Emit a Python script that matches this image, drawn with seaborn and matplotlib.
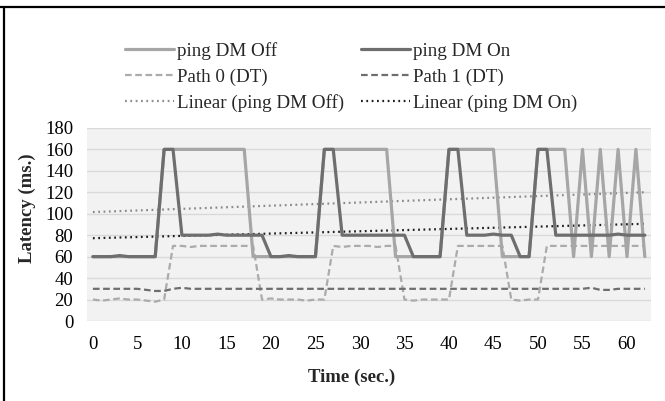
import numpy as np
import pandas as pd
import matplotlib
matplotlib.use("Agg")
import matplotlib.pyplot as plt
from matplotlib.lines import Line2D
import seaborn as sns

# time axis (sec.)
time_sec = list(range(63))

ping_dm_off = ([60] * 8 + [160] * 10 + [60] * 8 + [160] * 8 + [60] * 6 + [160] * 6
               + [60] * 4 + [160] * 4 + [60, 160, 60, 160, 60, 160, 60, 160, 60])
ping_dm_on = ([60, 60, 60, 61, 60, 60, 60, 60] + [160, 160]
              + [80, 80, 80, 80, 81, 80, 80, 80, 80, 80]
              + [60, 60, 61, 60, 60, 60] + [160, 160]
              + [80, 80, 80, 80, 80, 80, 80, 80] + [60, 60, 60, 60] + [160, 160]
              + [80, 80, 80, 81, 80, 80] + [60, 60] + [160, 160]
              + [80, 80, 80, 80, 80, 80, 80, 81, 80, 80, 80])
path0_dt = ([20, 19, 20, 21, 20, 20, 19, 18, 20] + [70, 70, 69, 70, 70, 70, 70, 70, 70, 70]
            + [20, 21, 20, 20, 20, 19, 20, 20] + [70, 69, 70, 70, 70, 69, 70, 70]
            + [20, 19, 20, 20, 20, 20] + [70, 70, 70, 70, 70, 70] + [20, 19, 20, 20]
            + [70, 70, 70, 70, 70, 70, 70, 70, 70, 70, 70, 70])
path1_dt = ([30, 30, 30, 30, 30, 30, 29, 28, 28, 30, 31, 30, 30, 30, 30, 30, 30, 30, 30, 30]
            + [30] * 20
            + [30, 30, 30, 30, 30, 30, 30, 30, 30, 30, 30, 30, 30, 30, 30, 30, 31, 29, 29, 30]
            + [30, 30, 30])

series_labels = {"off": "ping DM Off", "on": "ping DM On",
                 "p0": "Path 0 (DT)", "p1": "Path 1 (DT)",
                 "lin_off": "Linear (ping DM Off)", "lin_on": "Linear (ping DM On)"}
y_ticks = [0, 20, 40, 60, 80, 100, 120, 140, 160, 180]
x_ticks = list(range(0, 61, 5))

df = pd.DataFrame({"t": time_sec, "off": ping_dm_off, "on": ping_dm_on,
                   "p0": path0_dt, "p1": path1_dt})
# Excel style linear trendlines
df["lin_off"] = np.polyval(np.polyfit(df.t, df.off, 1), df.t)
df["lin_on"] = np.polyval(np.polyfit(df.t, df.on, 1), df.t)

sns.set_theme(style="white")
plt.rcParams["font.family"] = ["Liberation Serif", "DejaVu Serif"]

fig = plt.figure(figsize=(6.65, 4.01), dpi=100)
ax = fig.add_axes([0.131, 0.1995, 0.848, 0.4815])
ax.set_facecolor("#F2F2F2")

styles = {
    "off": ("#A6A6A6", "-", 2.3),
    "on": ("#6E6E6E", "-", 2.3),
    "p0": ("#ABABAB", (0, (3, 1.6)), 1.6),
    "p1": ("#6E6E6E", (0, (3, 1.6)), 1.6),
    "lin_off": ("#8A8A8A", (0, (0.8, 1.6)), 1.6),
    "lin_on": ("#1E1E1E", (0, (0.8, 1.6)), 1.6),
}
handles = {}
for col in ["p0", "p1", "lin_off", "lin_on", "off", "on"]:
    color, ls, lw = styles[col]
    sns.lineplot(data=df, x="t", y=col, ax=ax, color=color, linestyle=ls,
                 linewidth=lw, zorder=3)
    handles[col] = Line2D([], [], color=color, linestyle=ls, linewidth=lw)

ax.set_xlim(-0.65, 62.7)
ax.set_ylim(0, 180)
ax.set_yticks(y_ticks)
ax.set_xticks(x_ticks)
ax.grid(axis="y", color="#D9D9D9", linewidth=1.0)
ax.grid(axis="x", visible=False)
for s in ax.spines.values():
    s.set_visible(False)
ax.tick_params(axis="both", length=0, labelsize=13.5, colors="black")
ax.tick_params(axis="y", pad=10)
ax.tick_params(axis="x", pad=11)
ax.set_xlabel("")
ax.set_ylabel("")
fig.text(352 / 665, 1 - 377 / 401, "Time (sec.)", fontsize=13.5, fontweight="bold",
         ha="center", va="center")
fig.text(27 / 665, 1 - 208 / 401, "Latency (ms.)", fontsize=13.5, fontweight="bold",
         ha="center", va="center", rotation=90)

# legend filled column-wise: left column then right column
leg_keys = ["off", "p0", "lin_off", "on", "p1", "lin_on"]
fig.legend([handles[k] for k in leg_keys], [series_labels[k] for k in leg_keys],
           ncol=2, loc="center", bbox_to_anchor=(0.528, 0.808), frameon=False,
           fontsize=13.7, handlelength=2.6, handletextpad=0.15,
           columnspacing=0.85, labelspacing=0.45)

# frame of the cropped figure (top and left edges)
fig.add_artist(Line2D([0, 1], [1 - 7 / 401] * 2, color="black", linewidth=1.6,
                      transform=fig.transFigure))
fig.add_artist(Line2D([4 / 665] * 2, [0, 1 - 7 / 401], color="black", linewidth=1.6,
                      transform=fig.transFigure))

fig.savefig("out.png", dpi=100)
